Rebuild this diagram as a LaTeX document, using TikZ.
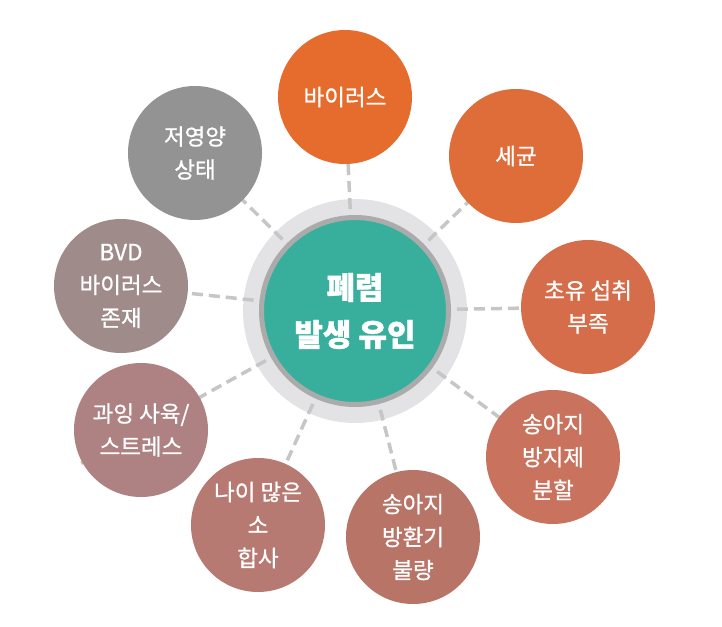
\documentclass[tikz,border=0pt]{standalone}
\usepackage{fontspec}
\setmainfont{Noto Sans CJK KR}
\newfontfamily\satfont{Noto Sans CJK KR}[FakeBold=0.9]
\newfontfamily\hubfont{Noto Sans CJK KR}[FakeBold=1.2]
\usetikzlibrary{calc}
\definecolor{teal1}{HTML}{37AF9C}
\definecolor{ringlight}{HTML}{E3E3E5}
\definecolor{ringdark}{HTML}{ABABAB}
\definecolor{dashc}{HTML}{C6C6C6}
\definecolor{c1}{HTML}{E56C2C}
\definecolor{c2}{HTML}{DE6D3A}
\definecolor{c3}{HTML}{D56D4A}
\definecolor{c4}{HTML}{C9735E}
\definecolor{c5}{HTML}{B87466}
\definecolor{c6}{HTML}{B77A72}
\definecolor{c7}{HTML}{AE8283}
\definecolor{c8}{HTML}{9F8B8A}
\definecolor{c9}{HTML}{939393}
\pgfdeclarelayer{bgring}
\pgfdeclarelayer{bglinks}
\pgfsetlayers{bgring,bglinks,main}
\begin{document}
\begin{tikzpicture}[x=1pt,y=-1pt,
  sat/.style={circle, minimum size=134pt, inner sep=0pt, text=white, align=center,
    font=\satfont\fontsize{22.5}{33}\selectfont},
  hub/.style={circle, minimum size=187pt, inner sep=0pt, fill=teal1, draw=ringdark,
    line width=5pt, text=white, align=center, font=\hubfont\bfseries\fontsize{31}{47}\selectfont},
  link/.style={draw=dashc, line width=3.5pt, dash pattern=on 11pt off 6pt}]
\useasboundingbox (0,0) rectangle (722,626);
\node[hub] (c) at (355,311) {폐렴\\발생 유인};
\node[sat, fill=c1] (s1) at (345,97) {바이러스};
\node[sat, fill=c2] (s2) at (516,156) {세균};
\node[sat, fill=c3] (s3) at (588,307) {초유 섭취\\부족};
\node[sat, fill=c4] (s4) at (553,457) {송아지\\방지제\\분할};
\node[sat, fill=c5] (s5) at (413,537) {송아지\\방환기\\불량};
\node[sat, fill=c6] (s6) at (258,525) {나이 많은\\소\\합사};
\node[sat, fill=c7] (s7) at (141,430) {과잉 사육/\\스트레스};
\node[sat, fill=c8] (s8) at (121,286) {BVD\\바이러스\\존재};
\node[sat, fill=c9] (s9) at (195,153) {저영양\\상태};
\coordinate (tail) at ($(c.center)!1.28!(s7.center)$);
\begin{pgfonlayer}{bgring}
  \fill[ringlight] (c.center) circle (112);
\end{pgfonlayer}
\begin{pgfonlayer}{bglinks}
  \foreach \s in {s1,s2,s3,s4,s5,s6,s8,s9}
    \draw[link] (c.center) -- (\s.center);
  \draw[link] (c.center) -- (tail);
\end{pgfonlayer}
\end{tikzpicture}
\end{document}
